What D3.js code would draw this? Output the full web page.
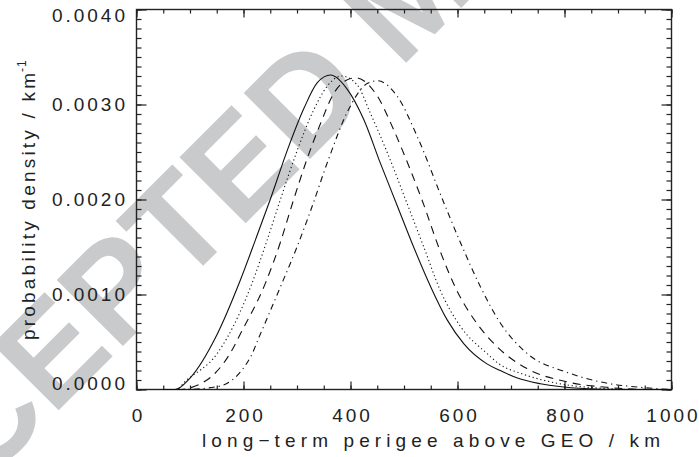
<!DOCTYPE html>
<html>
<head>
<meta charset="utf-8">
<script src="https://cdn.jsdelivr.net/npm/d3@7"></script>
<style>
    body { margin: 0; background: #fff; }
    svg { display: block; }
    .tick text { font-family: "Liberation Sans", Arial, sans-serif; font-size: 19px; fill: #222; letter-spacing: 3px; }
    .axis-label { font-family: "Liberation Sans", Arial, sans-serif; font-size: 19px; fill: #222; }
</style>
</head>
<body>
<div id="chart"></div>
<script>
// Data: [perigee km, probability density per km]
const solidCurve = [
    [50, 0], [72, 0], [100, 0.00012], [148, 0.00055], [194, 0.00115], [222, 0.00157],
    [250, 0.002], [282, 0.00252], [313, 0.00296], [338, 0.00323], [363, 0.00331],
    [394, 0.00316], [425, 0.00284], [456, 0.00238], [487, 0.00194], [518, 0.0015],
    [550, 0.00108], [581, 0.00073], [612, 0.00048], [655, 0.00027], [680, 0.0002],
    [712, 0.00012], [755, 0.00006], [836, 0.00001], [900, 0], [1000, 0]
];
const dottedCurve = [
    [50, 0], [75, 0], [90, 0.00008], [151, 0.00038], [170, 0.00055], [216, 0.00112],
    [244, 0.00157], [269, 0.002], [300, 0.00251], [331, 0.00294], [356, 0.00319],
    [383, 0.0033], [412, 0.00321], [437, 0.00291], [469, 0.00249], [509, 0.00191],
    [537, 0.0015], [568, 0.00104], [606, 0.00066], [655, 0.00038], [680, 0.00026],
    [718, 0.00017], [774, 0.00008], [867, 0.000014], [950, 0], [1000, 0]
];
const dashedCurve = [
    [50, 0], [78, 0], [120, 0.00006], [182, 0.00045], [191, 0.00055], [241, 0.00112],
    [269, 0.00155], [291, 0.00195], [319, 0.00243], [344, 0.0028], [369, 0.00312],
    [394, 0.00326], [410, 0.00328], [450, 0.00309], [481, 0.00273], [512, 0.00231],
    [534, 0.00199], [568, 0.00145], [599, 0.00104], [637, 0.00069], [674, 0.00045],
    [730, 0.00022], [805, 0.00008], [886, 0.00002], [960, 0], [1000, 0]
];
const dashDotCurve = [
    [50, 0], [85, 0], [151, 0.00003], [213, 0.00034], [229, 0.00055], [272, 0.00112],
    [300, 0.0015], [324, 0.00186], [360, 0.00244], [394, 0.00292], [431, 0.00322],
    [450, 0.00325], [487, 0.00309], [525, 0.00266], [572, 0.002], [606, 0.00154],
    [643, 0.00108], [680, 0.0007], [730, 0.00038], [805, 0.00018], [867, 0.00008],
    [948, 0.00002], [1000, 0]
];

const xMajorTicks = [0, 200, 400, 600, 800, 1000];
const xMinorTicks = d3.range(0, 1001, 50);
const yMajorTicks = [0, 0.001, 0.002, 0.003, 0.004];
const yMinorTicks = d3.range(0, 0.00401, 0.0001);

const series = [
    { name: "solid", data: solidCurve, dash: null },
    { name: "dotted", data: dottedCurve, dash: "1.2,2.8" },
    { name: "dashed", data: dashedCurve, dash: "8,6" },
    { name: "dashdot", data: dashDotCurve, dash: "6,4,1.2,4" }
];

const width = 699, height = 457;
const margin = { top: 9.5, right: 27.5, bottom: 67.5, left: 136.5 };
const innerWidth = width - margin.left - margin.right;
const innerHeight = height - margin.top - margin.bottom;

const svg = d3.select("#chart")
    .append("svg")
    .attr("width", width)
    .attr("height", height)
    .attr("viewBox", `0 0 ${width} ${height}`);

// watermark sits under everything
svg.append("text")
    .text("ACCEPTED MANUSCRIPT")
    .attr("transform", "translate(-156,625) rotate(-45)")
    .attr("font-family", "Liberation Sans, Arial, sans-serif")
    .attr("font-weight", "bold")
    .attr("font-size", 136)
    .attr("fill", "#c9cacc");

const innerChart = svg.append("g")
    .attr("transform", `translate(${margin.left}, ${margin.top})`);

const xScale = d3.scaleLinear().domain([0, 1000]).range([0, innerWidth]);
const yScale = d3.scaleLinear().domain([0, 0.004]).range([innerHeight, 0]);

// ticks only, the frame is drawn separately
const addAxis = (axis, transform) => {
    const g = innerChart.append("g")
        .attr("transform", transform)
        .attr("color", "#222")
        .call(axis);
    g.select(".domain").remove();
    g.selectAll(".tick line").attr("stroke-width", 1.2);
    g.selectAll(".tick text").filter(function () { return this.textContent === ""; }).remove();
    return g;
};

// minor ticks on all four sides
addAxis(d3.axisBottom(xScale).tickValues(xMinorTicks).tickSize(-4).tickFormat(""), `translate(0, ${innerHeight})`);
addAxis(d3.axisTop(xScale).tickValues(xMinorTicks).tickSize(-4).tickFormat(""), "translate(0, 0)");
addAxis(d3.axisLeft(yScale).tickValues(yMinorTicks).tickSize(-5).tickFormat(""), "translate(0, 0)");
addAxis(d3.axisRight(yScale).tickValues(yMinorTicks).tickSize(-5).tickFormat(""), `translate(${innerWidth}, 0)`);

// major ticks with labels
addAxis(d3.axisBottom(xScale).tickValues(xMajorTicks).tickSize(-8).tickPadding(19).tickFormat(d3.format("d")), `translate(0, ${innerHeight})`)
    .selectAll("text").attr("dx", "1.5");
addAxis(d3.axisTop(xScale).tickValues(xMajorTicks).tickSize(-8).tickFormat(""), "translate(0, 0)");
const leftAxis = addAxis(d3.axisLeft(yScale).tickValues(yMajorTicks).tickSize(-10).tickPadding(8.5).tickFormat(d3.format(".4f")), "translate(0, 0)");
addAxis(d3.axisRight(yScale).tickValues(yMajorTicks).tickSize(-10).tickFormat(""), `translate(${innerWidth}, 0)`);

// end labels are pulled inward like in the original
leftAxis.selectAll(".tick text")
    .attr("transform", d => d === 0 ? "translate(0,-6)" : d === 0.004 ? "translate(0,5.5)" : null);

// frame
innerChart.append("rect")
    .attr("width", innerWidth)
    .attr("height", innerHeight)
    .attr("fill", "none")
    .attr("stroke", "#222")
    .attr("stroke-width", 1.4);

// curves
const lineGenerator = d3.line()
    .x(d => xScale(d[0]))
    .y(d => yScale(d[1]))
    .curve(d3.curveMonotoneX);

innerChart.selectAll(".curve")
    .data(series)
    .join("path")
    .attr("class", "curve")
    .attr("d", d => lineGenerator(d.data))
    .attr("fill", "none")
    .attr("stroke", "#111")
    .attr("stroke-width", 1.1)
    .attr("stroke-dasharray", d => d.dash);

// axis labels
svg.append("text")
    .text("long−term perigee above GEO / km")
    .attr("x", 202)
    .attr("y", 447)
    .attr("textLength", 458)
    .attr("lengthAdjust", "spacing")
    .attr("class", "axis-label");

svg.append("text")
    .text("probability density / km")
    .attr("transform", "translate(35, 340) rotate(-90)")
    .attr("textLength", 267)
    .attr("lengthAdjust", "spacing")
    .attr("class", "axis-label");

svg.append("text")
    .text("-1")
    .attr("transform", "translate(26, 72) rotate(-90)")
    .attr("class", "axis-label")
    .style("font-size", "12px")
    .style("letter-spacing", "1px");
</script>
</body>
</html>
